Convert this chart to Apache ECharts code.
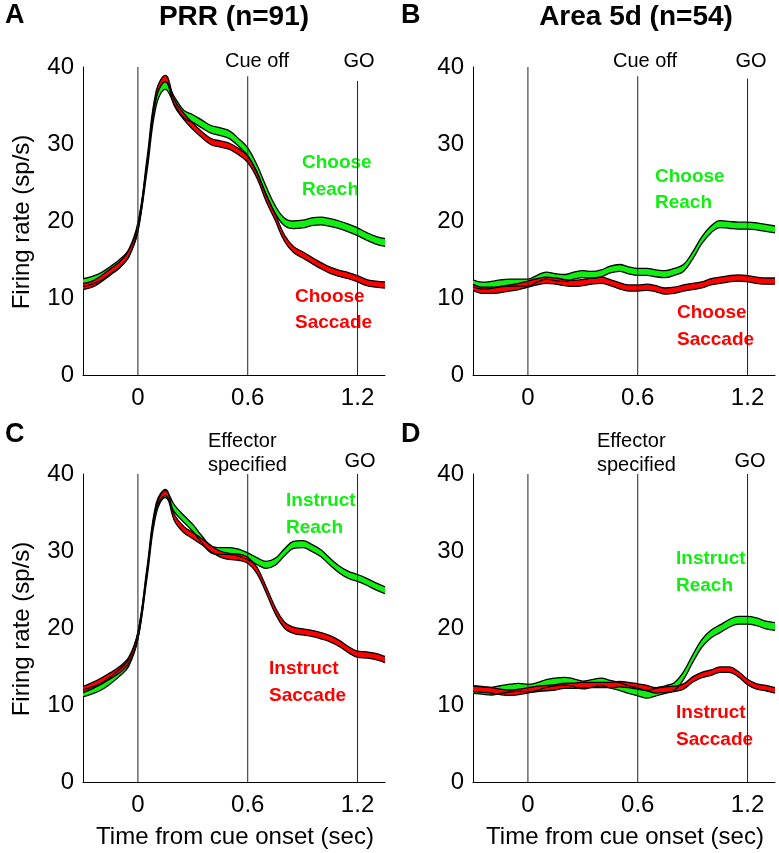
<!DOCTYPE html>
<html><head><meta charset="utf-8">
<script src="https://cdn.jsdelivr.net/npm/echarts@6/dist/echarts.min.js"></script>
<style>html,body{margin:0;padding:0;background:#fff}#c{width:779px;height:853px}</style>
</head><body><div id="c"></div>
<script>
// ---- data ----
const times = ['-0.3','-0.25','-0.2','-0.15','-0.1','-0.05','0','0.05','0.1','0.15','0.2','0.25','0.3','0.35','0.4','0.45','0.5','0.55','0.6','0.65','0.7','0.75','0.8','0.85','0.9','0.95','1','1.05','1.1','1.15','1.2','1.25','1.3','1.35'];
const xTickLabels = ['0','0.6','1.2'];
const yTickStep = 10;
const eventTimes = ['0','0.6','1.2'];

// Panel A: PRR, choice trials
const prrChooseReach  = [12.0,12.3,12.8,13.6,14.5,15.8,19.3,27.0,35.5,37.6,35.6,33.9,33.3,32.6,31.9,31.6,31.2,30.2,29.0,26.8,24.0,21.5,19.9,19.5,19.6,19.9,20.0,19.8,19.5,19.1,18.6,18.0,17.5,17.2];
const prrChooseSacc   = [11.5,11.8,12.5,13.4,14.3,15.8,19.0,27.8,36.5,38.5,35.3,33.6,32.3,31.2,30.3,30.0,29.7,29.0,28.0,26.0,23.0,20.5,17.8,16.3,15.6,14.9,14.2,13.6,13.2,12.9,12.5,12.0,11.8,11.7];
// Panel B: Area 5d, choice trials
const a5dChooseReach  = [11.9,11.6,11.7,11.9,12.0,12.0,12.0,12.5,12.9,12.7,12.6,12.9,13.1,13.0,13.2,13.7,13.9,13.6,13.4,13.4,13.2,13.1,13.4,13.9,15.5,17.5,18.9,19.6,19.5,19.4,19.4,19.3,19.1,18.9];
const a5dChooseSacc   = [11.4,11.0,11.0,11.1,11.3,11.5,11.8,12.1,12.3,12.2,12.0,11.9,12.0,12.2,12.3,12.0,11.6,11.3,11.3,11.4,11.2,10.9,11.0,11.3,11.5,11.7,12.1,12.3,12.5,12.6,12.5,12.3,12.2,12.2];
// Panel C: PRR, instructed trials
const prrInstReach    = [11.5,11.9,12.4,13.2,14.2,15.5,19.0,27.0,35.3,37.4,35.5,34.2,33.0,31.5,30.2,30.0,30.0,29.8,29.3,28.7,28.2,28.6,29.8,30.8,30.9,30.4,29.7,28.6,27.6,26.9,26.5,26.0,25.4,24.9];
const prrInstSacc     = [12.0,12.5,13.1,13.8,14.6,15.8,19.0,27.5,35.8,37.6,34.3,32.8,32.0,31.2,30.3,29.6,29.3,29.2,28.8,27.5,25.0,22.3,20.4,19.7,19.5,19.3,19.0,18.6,18.0,17.2,16.6,16.5,16.3,15.9];
// Panel D: Area 5d, instructed trials
const a5dInstReach    = [12.0,11.9,11.8,12.0,12.2,12.3,12.2,12.4,12.8,13.0,13.1,12.9,12.6,12.8,13.0,12.7,12.4,12.0,11.7,11.4,11.7,12.0,12.4,13.8,16.0,18.0,19.2,19.9,20.6,21.0,21.0,20.8,20.4,20.2];
const a5dInstSacc     = [12.1,12.0,11.9,11.7,11.6,11.7,11.9,12.1,12.2,12.3,12.5,12.5,12.6,12.6,12.6,12.6,12.7,12.6,12.4,12.2,11.9,12.0,12.1,12.4,13.3,13.9,14.2,14.6,14.6,14.0,13.0,12.4,12.2,11.9];
// band half-widths (s.e.m., sp/s)
const semPrrChooseReach = 0.5, semPrrChooseSacc = 0.4;
const semA5dChooseReach = 0.45, semA5dChooseSacc = 0.4;
const semPrrInstReach = 0.45, semPrrInstSacc = 0.4;
const semA5dInstReach = 0.5, semA5dInstSacc = 0.35;

// ---- layout / style ----
const FONT = '"Liberation Sans", Arial, Helvetica, sans-serif';
const GREEN = '#11ee11', RED = '#ff0000';
const panels = [
  {grid:{left:83, top:67, width:302, height:308}, reach:prrChooseReach, sacc:prrChooseSacc, semR:semPrrChooseReach, semS:semPrrChooseSacc, tops:[40,38.8,38.2]},
  {grid:{left:473,top:67, width:302, height:308}, reach:a5dChooseReach, sacc:a5dChooseSacc, semR:semA5dChooseReach, semS:semA5dChooseSacc, tops:[40,38.8,38.5]},
  {grid:{left:83, top:474,width:302, height:308}, reach:prrInstReach,   sacc:prrInstSacc,   semR:semPrrInstReach,   semS:semPrrInstSacc,   tops:[40,40,40]},
  {grid:{left:473,top:474,width:302, height:308}, reach:a5dInstReach,   sacc:a5dInstSacc,   semR:semA5dInstReach,   semS:semA5dInstSacc,   tops:[40,40,40]}
];

const grids = [], xAxes = [], yAxes = [], series = [];
panels.forEach((p, i) => {
  grids.push(p.grid);
  xAxes.push({
    type:'category', gridIndex:i, data:times, boundaryGap:false,
    axisLine:{lineStyle:{color:'#000', width:1}},
    axisTick:{show:false},
    axisLabel:{interval:(idx, v) => xTickLabels.includes(v), color:'#000', fontSize:24, fontFamily:FONT, margin:11},
    splitLine:{show:false}
  });
  yAxes.push({
    type:'value', gridIndex:i, min:0, max:40, interval:yTickStep,
    axisLine:{show:true, lineStyle:{color:'#000', width:1}},
    axisTick:{show:false},
    axisLabel:{color:'#000', fontSize:24, fontFamily:FONT, margin:9},
    splitLine:{show:false}
  });
  const addBand = (mean, sem, color, key) => {
    const lower = mean.map(v => v - sem);
    const width = mean.map(() => 2 * sem);
    series.push({type:'line', xAxisIndex:i, yAxisIndex:i, stack:key+i, data:lower, smooth:0.4,
      symbol:'none', lineStyle:{color:'#000', width:1.3}, silent:true, z:2});
    series.push({type:'line', xAxisIndex:i, yAxisIndex:i, stack:key+i, data:width, smooth:0.4,
      symbol:'none', lineStyle:{color:'#000', width:1.3}, areaStyle:{color:color, opacity:1}, silent:true, z:2});
  };
  addBand(p.reach, p.semR, GREEN, 'r');
  addBand(p.sacc, p.semS, RED, 's');
  eventTimes.forEach((t, k) => {
    series.push({type:'line', xAxisIndex:i, yAxisIndex:i, data:[[t,0],[t,p.tops[k]]],
      symbol:'none', lineStyle:{color:'#222', width:1}, silent:true, z:5});
  });
});

const txt = (text, x, y, size, opts={}) => ({
  type:'text', x:x, y:y, rotation:opts.rot||0, z:1,
  style:{text:text, fill:opts.color||'#000', font:(opts.bold?'bold ':'')+size+'px '+FONT,
    textAlign:opts.align||'center', textVerticalAlign:'middle'}
});
const graphics = [
  txt('A', 5, 16, 27, {bold:true, align:'left'}),
  txt('B', 401, 16, 27, {bold:true, align:'left'}),
  txt('C', 5, 435, 27, {bold:true, align:'left'}),
  txt('D', 401, 435, 27, {bold:true, align:'left'}),
  txt('PRR (n=91)', 234, 17, 28, {bold:true}),
  txt('Area 5d (n=54)', 636, 17, 28, {bold:true}),
  txt('Cue off', 257, 61, 20),
  txt('GO', 359, 61, 20),
  txt('Cue off', 645, 61, 20),
  txt('GO', 751, 61, 20),
  txt('Effector', 208, 441, 20, {align:'left'}),
  txt('specified', 208, 465, 20, {align:'left'}),
  txt('GO', 360, 461, 20),
  txt('Effector', 597, 441, 20, {align:'left'}),
  txt('specified', 597, 465, 20, {align:'left'}),
  txt('GO', 750, 461, 20),
  txt('Choose', 302, 163, 19, {bold:true, align:'left', color:GREEN}),
  txt('Reach', 302, 190, 19, {bold:true, align:'left', color:GREEN}),
  txt('Choose', 295, 297, 19, {bold:true, align:'left', color:RED}),
  txt('Saccade', 295, 323, 19, {bold:true, align:'left', color:RED}),
  txt('Choose', 655, 177, 19, {bold:true, align:'left', color:GREEN}),
  txt('Reach', 655, 203, 19, {bold:true, align:'left', color:GREEN}),
  txt('Choose', 677, 313, 19, {bold:true, align:'left', color:RED}),
  txt('Saccade', 677, 340, 19, {bold:true, align:'left', color:RED}),
  txt('Instruct', 286, 501, 19, {bold:true, align:'left', color:GREEN}),
  txt('Reach', 286, 528, 19, {bold:true, align:'left', color:GREEN}),
  txt('Instruct', 269, 669, 19, {bold:true, align:'left', color:RED}),
  txt('Saccade', 269, 696, 19, {bold:true, align:'left', color:RED}),
  txt('Instruct', 676, 559, 19, {bold:true, align:'left', color:GREEN}),
  txt('Reach', 676, 586, 19, {bold:true, align:'left', color:GREEN}),
  txt('Instruct', 676, 713, 19, {bold:true, align:'left', color:RED}),
  txt('Saccade', 676, 740, 19, {bold:true, align:'left', color:RED}),
  txt('Firing rate (sp/s)', 22, 222, 24, {rot:Math.PI/2}),
  txt('Firing rate (sp/s)', 22, 629, 24, {rot:Math.PI/2}),
  txt('Time from cue onset (sec)', 235, 837, 24),
  txt('Time from cue onset (sec)', 625, 837, 24)
];

const chart = echarts.init(document.getElementById('c'), null, {renderer:'canvas'});
chart.setOption({
  animation:false,
  backgroundColor:'#fff',
  grid:grids, xAxis:xAxes, yAxis:yAxes, series:series,
  graphic:graphics
});
</script></body></html>
